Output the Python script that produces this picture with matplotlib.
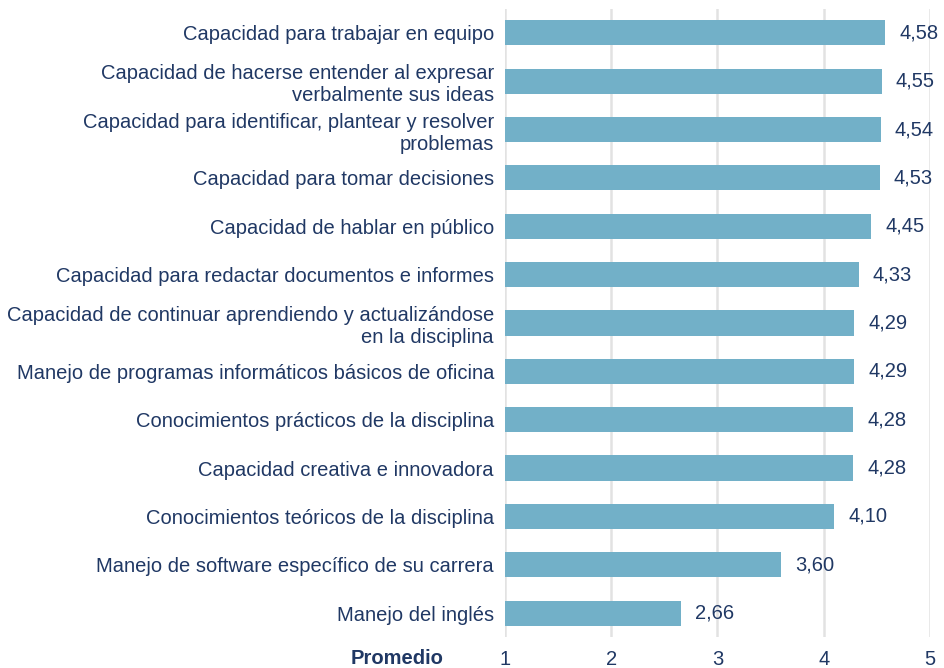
import matplotlib
matplotlib.use("Agg")
import matplotlib.pyplot as plt

LABELS = [
    "Capacidad para trabajar en equipo",
    "Capacidad de hacerse entender al expresar\nverbalmente sus ideas",
    "Capacidad para identificar, plantear y resolver\nproblemas",
    "Capacidad para tomar decisiones",
    "Capacidad de hablar en público",
    "Capacidad para redactar documentos e informes",
    "Capacidad de continuar aprendiendo y actualizándose\nen la disciplina",
    "Manejo de programas informáticos básicos de oficina",
    "Conocimientos prácticos de la disciplina",
    "Capacidad creativa e innovadora",
    "Conocimientos teóricos de la disciplina",
    "Manejo de software específico de su carrera",
    "Manejo del inglés",
]
VALUES = [4.58, 4.55, 4.54, 4.53, 4.45, 4.33, 4.29, 4.29, 4.28, 4.28, 4.10, 3.60, 2.66]
XTICKS = [1, 2, 3, 4, 5]

TEXT = "#203864"
BAR = "#72B0C8"
GRID = "#E2E2E2"
FS = 14.5

plt.rcParams["font.family"] = ["Liberation Sans", "DejaVu Sans"]

fig = plt.figure(figsize=(9.44, 6.68), dpi=100)
ax = fig.add_axes([0.535, 0.046, 0.450, 0.941])

y = range(len(LABELS))
ax.barh(list(y), [v - 1 for v in VALUES], left=1, height=0.52, color=BAR, zorder=3)
for yi, v in zip(y, VALUES):
    ax.annotate(f"{v:.2f}".replace(".", ","), (v, yi), xytext=(10, 0),
                textcoords="offset points", va="center", ha="left",
                fontsize=FS, color=TEXT)

ax.set_xlim(1, 5)
ax.set_ylim(len(LABELS) - 0.5, -0.5)
ax.set_xticks(XTICKS)
ax.set_xticklabels([str(t) for t in XTICKS], fontsize=FS, color=TEXT)
ax.set_yticks(list(y))
ax.set_yticklabels(LABELS, fontsize=FS, color=TEXT, linespacing=1.2)
ax.tick_params(length=0, pad=8)
ax.tick_params(axis="x", pad=9)
ax.grid(axis="x", color=GRID, linewidth=1.8, zorder=0)
for s in ax.spines.values():
    s.set_visible(False)

ax.annotate("Promedio", xy=(0, 0), xycoords="axes fraction", xytext=(-44, -15),
            textcoords="offset points", ha="right", va="center",
            fontsize=FS, fontweight="bold", color=TEXT)

fig.savefig("out.png", dpi=100)
